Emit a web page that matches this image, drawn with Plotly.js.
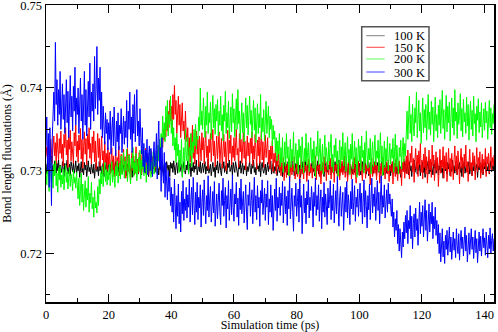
<!DOCTYPE html>
<html>
<head>
<meta charset="utf-8">
<script src="https://cdn.plot.ly/plotly-3.0.1.min.js"></script>
<style>html,body{margin:0;padding:0;background:#fff;}#chart{width:498px;height:332px;}</style>
</head>
<body>
<div id="chart"></div>
<script>
// sampling: t0 = 0 ps, step 0.25 ps
const seriesNames = ["100 K", "150 K", "200 K", "300 K"];
const seriesColors = ["#000000", "#ff0000", "#00ff00", "#0000ff"];
const legendLineColors = ["#808080", "#ff4040", "#60ff60", "#4040ff"];
const t0 = 0, dt = 0.25;

const k100 = [
0.7308,0.7296,0.7315,0.7301,0.7292,0.7310,0.7304,0.7318,0.7299,0.7306,0.7294,0.7312,0.7303,0.7297,0.7309,0.7300,0.7314,0.7295,0.7307,0.7302,
0.7298,0.7311,0.7304,0.7293,0.7309,0.7300,0.7306,0.7313,0.7296,0.7302,0.7308,0.7294,0.7311,0.7305,0.7299,0.7310,0.7297,0.7303,0.7312,0.7295,
0.7306,0.7300,0.7309,0.7292,0.7304,0.7311,0.7298,0.7303,0.7295,0.7310,0.7301,0.7307,0.7293,0.7305,0.7312,0.7299,0.7304,0.7296,0.7309,0.7302,
0.7297,0.7308,0.7291,0.7303,0.7310,0.7299,0.7305,0.7294,0.7311,0.7300,0.7306,0.7296,0.7302,0.7309,0.7293,0.7307,0.7301,0.7312,0.7298,0.7304,
0.7310,0.7295,0.7303,0.7308,0.7299,0.7313,0.7301,0.7296,0.7306,0.7311,0.7294,0.7304,0.7309,0.7298,0.7305,0.7300,0.7312,0.7297,0.7303,0.7307,
0.7299,0.7310,0.7302,0.7294,0.7308,0.7304,0.7313,0.7298,0.7301,0.7306,0.7292,0.7309,0.7303,0.7311,0.7297,0.7305,0.7300,0.7314,0.7296,0.7302,
0.7308,0.7301,0.7295,0.7310,0.7304,0.7299,0.7312,0.7297,0.7306,0.7303,0.7309,0.7293,0.7305,0.7311,0.7300,0.7296,0.7307,0.7302,0.7313,0.7298,
0.7304,0.7310,0.7297,0.7303,0.7295,0.7309,0.7301,0.7312,0.7299,0.7306,0.7294,0.7308,0.7302,0.7297,0.7311,0.7305,0.7300,0.7307,0.7293,0.7310,
0.7303,0.7309,0.7298,0.7312,0.7301,0.7295,0.7306,0.7310,0.7297,0.7304,0.7313,0.7299,0.7302,0.7308,0.7294,0.7305,0.7311,0.7300,0.7296,0.7307,
0.7301,0.7312,0.7296,0.7305,0.7309,0.7293,0.7304,0.7300,0.7310,0.7298,0.7306,0.7302,0.7313,0.7295,0.7303,0.7308,0.7299,0.7311,0.7297,0.7304,
0.7309,0.7298,0.7303,0.7311,0.7296,0.7305,0.7300,0.7314,0.7297,0.7302,0.7308,0.7294,0.7306,0.7310,0.7299,0.7304,0.7292,0.7307,0.7301,0.7312,
0.7297,0.7305,0.7310,0.7300,0.7294,0.7308,0.7303,0.7311,0.7298,0.7306,0.7301,0.7296,0.7309,0.7304,0.7313,0.7299,0.7302,0.7307,0.7295,0.7310,
0.7303,0.7298,0.7311,0.7305,0.7300,0.7293,0.7308,0.7302,0.7312,0.7297,0.7304,0.7309,0.7296,0.7306,0.7301,0.7310,0.7294,0.7305,0.7299,0.7307,
0.7311,0.7300,0.7296,0.7308,0.7303,0.7313,0.7298,0.7304,0.7295,0.7309,0.7302,0.7306,0.7299,0.7311,0.7293,0.7305,0.7310,0.7301,0.7297,0.7303,
0.7308,0.7295,0.7304,0.7310,0.7299,0.7306,0.7302,0.7312,0.7296,0.7301,0.7309,0.7297,0.7305,0.7300,0.7313,0.7294,0.7303,0.7307,0.7298,0.7311,
0.7300,0.7306,0.7293,0.7304,0.7310,0.7298,0.7302,0.7308,0.7295,0.7311,0.7301,0.7297,0.7307,0.7303,0.7312,0.7299,0.7305,0.7294,0.7309,0.7302,
0.7296,0.7310,0.7304,0.7299,0.7307,0.7292,0.7303,0.7311,0.7300,0.7306,0.7298,0.7313,0.7301,0.7295,0.7308,0.7304,0.7310,0.7297,0.7302,0.7306,
0.7311,0.7299,0.7303,0.7294,0.7309,0.7305,0.7300,0.7312,0.7296,0.7304,0.7308,0.7301,0.7297,0.7310,0.7303,0.7293,0.7306,0.7311,0.7299,0.7304,
0.7298,0.7307,0.7302,0.7312,0.7295,0.7305,0.7309,0.7300,0.7296,0.7311,0.7303,0.7297,0.7308,0.7301,0.7313,0.7294,0.7304,0.7300,0.7309,0.7298,
0.7305,0.7310,0.7297,0.7303,0.7308,0.7293,0.7301,0.7311,0.7299,0.7306,0.7302,0.7296,0.7310,0.7304,0.7298,0.7312,0.7300,0.7307,0.7295,0.7303,
0.7309,0.7300,0.7295,0.7306,0.7311,0.7298,0.7304,0.7301,0.7313,0.7296,0.7303,0.7308,0.7294,0.7305,0.7310,0.7299,0.7302,0.7307,0.7297,0.7311,
0.7301,0.7306,0.7293,0.7310,0.7303,0.7298,0.7309,0.7296,0.7305,0.7312,0.7300,0.7295,0.7307,0.7302,0.7311,0.7297,0.7304,0.7309,0.7299,0.7306,
0.7294,0.7308,0.7302,0.7311,0.7297,0.7304,0.7300,0.7313,0.7296,0.7303,0.7309,0.7298,0.7305,0.7292,0.7310,0.7301,0.7306,0.7299,0.7312,0.7303,
0.7297,0.7309,0.7304,0.7295,0.7311,0.7300,0.7306,0.7293,0.7308,0.7302,0.7313,0.7298,0.7303,0.7310,0.7296,0.7305,0.7300,0.7309,0.7294,0.7307,
0.7303,0.7311,0.7298,0.7305,0.7292,0.7309,0.7301,0.7306,0.7312,0.7296,0.7304,0.7299,0.7310,0.7302,0.7295,0.7308,0.7303,0.7313,0.7297,0.7301,
0.7309,0.7295,0.7306,0.7301,0.7312,0.7298,0.7303,0.7291,0.7307,0.7311,0.7300,0.7304,0.7296,0.7310,0.7302,0.7308,0.7294,0.7305,0.7299,0.7313,
0.7300,0.7306,0.7297,0.7311,0.7303,0.7295,0.7308,0.7302,0.7310,0.7298,0.7305,0.7293,0.7309,0.7301,0.7312,0.7297,0.7304,0.7307,0.7299,0.7306,
0.7311,0.7296,0.7303,0.7309,0.7294,0.7305,0.7300,0.7313,0.7298,0.7304,0.7308,0.7292,0.7306,0.7301,0.7310,0.7297,0.7303,0.7309,0.7295,0.7307,
0.7302,0.7311,0.7298,0.7305,0.7300,0.7309,0.7296,0.7304,0.7312,0.7299,0.7306,0.7301,0.7308
];

const k150 = [
0.7318,0.7329,0.7312,0.7336,0.7321,0.7315,0.7338,0.7325,0.7310,0.7331,0.7342,0.7318,0.7334,0.7308,0.7345,0.7326,0.7313,0.7339,0.7321,0.7348,
0.7315,0.7332,0.7306,0.7344,0.7328,0.7352,0.7319,0.7337,0.7304,0.7341,0.7326,0.7349,0.7312,0.7335,0.7322,0.7309,0.7346,0.7330,0.7355,0.7317,
0.7336,0.7310,0.7343,0.7325,0.7351,0.7314,0.7338,0.7303,0.7329,0.7347,0.7320,0.7339,0.7307,0.7344,0.7326,0.7352,0.7315,0.7333,0.7308,0.7341,
0.7322,0.7348,0.7311,0.7336,0.7302,0.7330,0.7345,0.7316,0.7339,0.7305,0.7327,0.7342,0.7313,0.7324,0.7298,0.7335,0.7310,0.7321,0.7300,0.7328,
0.7307,0.7322,0.7296,0.7315,0.7328,0.7301,0.7318,0.7293,0.7311,0.7325,0.7298,0.7316,0.7305,0.7330,0.7294,0.7312,0.7320,0.7297,0.7309,0.7326,
0.7302,0.7317,0.7291,0.7313,0.7327,0.7299,0.7320,0.7306,0.7289,0.7315,0.7324,0.7300,0.7318,0.7295,0.7311,0.7329,0.7303,0.7314,0.7297,0.7322,
0.7308,0.7319,0.7296,0.7325,0.7304,0.7316,0.7299,0.7327,0.7310,0.7301,0.7321,0.7295,0.7314,0.7306,0.7324,0.7298,0.7317,0.7305,0.7320,0.7302,
0.7312,0.7324,0.7303,0.7318,0.7330,0.7309,0.7322,0.7335,0.7342,0.7328,0.7350,0.7337,0.7358,0.7341,0.7365,0.7348,0.7372,0.7352,0.7385,0.7360,
0.7378,0.7350,0.7392,0.7362,0.7403,0.7368,0.7385,0.7345,0.7375,0.7390,0.7355,0.7380,0.7340,0.7368,0.7382,0.7348,0.7360,0.7338,0.7372,0.7346,
0.7335,0.7352,0.7318,0.7340,0.7310,0.7345,0.7325,0.7355,0.7315,0.7336,0.7308,0.7330,0.7348,0.7320,0.7338,0.7305,0.7342,0.7328,0.7312,0.7346,
0.7325,0.7340,0.7308,0.7333,0.7348,0.7316,0.7330,0.7302,0.7338,0.7322,0.7345,0.7311,0.7329,0.7350,0.7318,0.7336,0.7305,0.7327,0.7342,0.7314,
0.7331,0.7347,0.7310,0.7326,0.7339,0.7303,0.7324,0.7344,0.7317,0.7335,0.7300,0.7328,0.7349,0.7312,0.7337,0.7321,0.7343,0.7307,0.7330,0.7316,
0.7340,0.7312,0.7333,0.7350,0.7319,0.7327,0.7304,0.7345,0.7323,0.7338,0.7309,0.7331,0.7346,0.7315,0.7336,0.7301,0.7325,0.7342,0.7318,0.7334,
0.7310,0.7339,0.7321,0.7347,0.7306,0.7330,0.7314,0.7344,0.7326,0.7302,0.7337,0.7318,0.7341,0.7309,0.7329,0.7348,0.7313,0.7335,0.7304,0.7327,
0.7343,0.7316,0.7332,0.7340,0.7308,0.7325,0.7302,0.7330,0.7314,0.7336,0.7299,0.7321,0.7310,0.7327,0.7296,0.7318,0.7305,0.7323,0.7300,0.7312,
0.7294,0.7310,0.7301,0.7316,0.7288,0.7305,0.7312,0.7292,0.7308,0.7298,0.7315,0.7286,0.7303,0.7311,0.7295,0.7307,0.7300,0.7317,0.7290,0.7304,
0.7309,0.7293,0.7313,0.7299,0.7285,0.7306,0.7316,0.7296,0.7304,0.7290,0.7311,0.7300,0.7307,0.7287,0.7302,0.7314,0.7294,0.7309,0.7298,0.7305,
0.7291,0.7312,0.7303,0.7297,0.7318,0.7289,0.7306,0.7300,0.7314,0.7293,0.7308,0.7284,0.7301,0.7310,0.7296,0.7317,0.7299,0.7305,0.7288,0.7311,
0.7302,0.7295,0.7309,0.7315,0.7290,0.7304,0.7298,0.7313,0.7286,0.7307,0.7300,0.7316,0.7293,0.7305,0.7310,0.7289,0.7303,0.7298,0.7312,0.7295,
0.7306,0.7318,0.7292,0.7301,0.7310,0.7287,0.7304,0.7314,0.7297,0.7308,0.7290,0.7303,0.7311,0.7295,0.7316,0.7300,0.7285,0.7307,0.7299,0.7312,
0.7294,0.7305,0.7313,0.7298,0.7288,0.7309,0.7302,0.7317,0.7291,0.7306,0.7300,0.7311,0.7296,0.7304,0.7283,0.7308,0.7315,0.7293,0.7303,0.7310,
0.7297,0.7314,0.7289,0.7306,0.7300,0.7312,0.7285,0.7303,0.7309,0.7294,0.7316,0.7299,0.7305,0.7290,0.7311,0.7301,0.7296,0.7313,0.7287,0.7307,
0.7302,0.7298,0.7311,0.7284,0.7305,0.7309,0.7293,0.7315,0.7300,0.7288,0.7306,0.7312,0.7296,0.7303,0.7282,0.7310,0.7299,0.7314,0.7291,0.7308,
0.7318,0.7296,0.7325,0.7305,0.7290,0.7321,0.7310,0.7330,0.7299,0.7315,0.7286,0.7312,0.7327,0.7302,0.7319,0.7293,0.7324,0.7307,0.7333,0.7298,
0.7313,0.7290,0.7320,0.7304,0.7328,0.7296,0.7317,0.7285,0.7309,0.7325,0.7301,0.7314,0.7292,0.7331,0.7306,0.7319,0.7288,0.7311,0.7323,0.7300,
0.7316,0.7281,0.7308,0.7326,0.7297,0.7313,0.7304,0.7329,0.7291,0.7318,0.7302,0.7322,0.7287,0.7310,0.7327,0.7299,0.7315,0.7293,0.7321,0.7306,
0.7289,0.7314,0.7330,0.7300,0.7318,0.7295,0.7324,0.7308,0.7284,0.7312,0.7327,0.7303,0.7316,0.7292,0.7320,0.7305,0.7331,0.7298,0.7311,0.7287,
0.7315,0.7326,0.7301,0.7310,0.7294,0.7322,0.7306,0.7318,0.7289,0.7313,0.7328,0.7299,0.7316,0.7304,0.7323,0.7291,0.7309,0.7320,0.7296,0.7314,
0.7305,0.7327,0.7293,0.7317,0.7308,0.7321,0.7297,0.7312,0.7329,0.7300,0.7316,0.7306,0.7319
];

const k200 = [
0.7298,0.7283,0.7310,0.7291,0.7275,0.7305,0.7316,0.7287,0.7300,0.7279,0.7308,0.7294,0.7312,0.7282,0.7297,0.7274,0.7303,0.7289,0.7306,0.7280,
0.7295,0.7284,0.7302,0.7277,0.7291,0.7307,0.7286,0.7299,0.7278,0.7293,0.7304,0.7281,0.7296,0.7289,0.7276,0.7301,0.7285,0.7292,0.7279,0.7298,
0.7280,0.7266,0.7291,0.7258,0.7275,0.7297,0.7262,0.7284,0.7252,0.7270,0.7288,0.7256,0.7279,0.7265,0.7293,0.7250,0.7273,0.7261,0.7286,0.7254,
0.7268,0.7244,0.7276,0.7255,0.7262,0.7249,0.7281,0.7258,0.7290,0.7272,0.7298,0.7284,0.7305,0.7281,0.7296,0.7310,0.7287,0.7302,0.7283,0.7299,
0.7289,0.7308,0.7282,0.7297,0.7311,0.7286,0.7301,0.7292,0.7280,0.7306,0.7294,0.7312,0.7285,0.7299,0.7309,0.7290,0.7318,0.7295,0.7305,0.7322,
0.7291,0.7312,0.7300,0.7326,0.7287,0.7308,0.7319,0.7295,0.7284,0.7315,0.7303,0.7328,0.7293,0.7310,0.7297,0.7321,0.7288,0.7306,0.7316,0.7299,
0.7325,0.7290,0.7313,0.7302,0.7329,0.7294,0.7309,0.7320,0.7286,0.7307,0.7298,0.7318,0.7301,0.7326,0.7292,0.7311,0.7304,0.7323,0.7296,0.7315,
0.7305,0.7322,0.7296,0.7331,0.7312,0.7338,0.7318,0.7345,0.7328,0.7366,0.7340,0.7358,0.7335,0.7378,0.7350,0.7385,0.7342,0.7368,0.7356,0.7390,
0.7345,0.7362,0.7330,0.7352,0.7325,0.7340,0.7310,0.7345,0.7318,0.7332,0.7298,0.7325,0.7306,0.7338,0.7292,0.7315,0.7328,0.7300,0.7350,0.7320,
0.7312,0.7340,0.7296,0.7328,0.7318,0.7345,0.7305,0.7335,0.7322,0.7350,0.7330,0.7356,0.7326,0.7342,0.7338,0.7365,0.7348,0.7400,0.7355,0.7372,
0.7350,0.7388,0.7362,0.7340,0.7378,0.7355,0.7395,0.7345,0.7370,0.7358,0.7383,0.7338,0.7366,0.7391,0.7352,0.7375,0.7344,0.7380,0.7360,0.7386,
0.7342,0.7372,0.7355,0.7390,0.7348,0.7368,0.7336,0.7379,0.7360,0.7396,0.7345,0.7370,0.7352,0.7384,0.7339,0.7363,0.7377,0.7347,0.7393,0.7358,
0.7375,0.7341,0.7364,0.7387,0.7350,0.7398,0.7357,0.7372,0.7338,0.7366,0.7382,0.7346,0.7370,0.7335,0.7361,0.7388,0.7352,0.7379,0.7343,0.7368,
0.7390,0.7356,0.7373,0.7340,0.7362,0.7385,0.7349,0.7376,0.7334,0.7359,0.7381,0.7345,0.7369,0.7352,0.7392,0.7338,0.7364,0.7347,0.7374,0.7336,
0.7358,0.7384,0.7345,0.7372,0.7378,0.7340,0.7366,0.7350,0.7362,0.7330,0.7355,0.7338,0.7348,0.7322,0.7340,0.7312,0.7336,0.7320,0.7345,0.7305,
0.7328,0.7310,0.7340,0.7298,0.7322,0.7335,0.7306,0.7345,0.7315,0.7329,0.7294,0.7318,0.7338,0.7304,0.7326,0.7312,0.7347,0.7300,0.7320,0.7333,
0.7308,0.7325,0.7296,0.7338,0.7316,0.7330,0.7302,0.7341,0.7319,0.7297,0.7327,0.7311,0.7345,0.7306,0.7322,0.7334,0.7299,0.7318,0.7340,0.7310,
0.7326,0.7303,0.7336,0.7314,0.7293,0.7329,0.7318,0.7348,0.7307,0.7321,0.7339,0.7300,0.7315,0.7332,0.7296,0.7324,0.7343,0.7309,0.7328,0.7317,
0.7301,0.7335,0.7312,0.7327,0.7344,0.7305,0.7320,0.7298,0.7331,0.7316,0.7339,0.7308,0.7324,0.7293,0.7318,0.7337,0.7303,0.7329,0.7313,0.7346,
0.7306,0.7323,0.7334,0.7299,0.7317,0.7341,0.7310,0.7326,0.7295,0.7332,0.7314,0.7345,0.7302,0.7321,0.7336,0.7308,0.7328,0.7292,0.7319,0.7338,
0.7311,0.7330,0.7300,0.7342,0.7316,0.7325,0.7297,0.7334,0.7309,0.7348,0.7320,0.7303,0.7327,0.7313,0.7339,0.7296,0.7322,0.7335,0.7305,0.7318,
0.7343,0.7307,0.7324,0.7315,0.7337,0.7299,0.7321,0.7346,0.7310,0.7330,0.7294,0.7318,0.7336,0.7304,0.7327,0.7312,0.7341,0.7300,0.7323,0.7333,
0.7308,0.7326,0.7315,0.7339,0.7298,0.7320,0.7344,0.7305,0.7331,0.7312,0.7296,0.7328,0.7317,0.7337,0.7302,0.7323,0.7340,0.7311,0.7333,0.7318,
0.7350,0.7372,0.7338,0.7365,0.7390,0.7345,0.7368,0.7335,0.7380,0.7355,0.7342,0.7376,0.7358,0.7395,0.7340,0.7362,0.7385,0.7348,0.7370,0.7333,
0.7360,0.7388,0.7346,0.7374,0.7352,0.7380,0.7337,0.7366,0.7392,0.7350,0.7371,0.7343,0.7384,0.7356,0.7377,0.7335,0.7363,0.7389,0.7348,0.7368,
0.7340,0.7379,0.7355,0.7386,0.7345,0.7369,0.7397,0.7351,0.7374,0.7338,0.7362,0.7391,0.7347,0.7378,0.7358,0.7383,0.7336,0.7365,0.7388,0.7352,
0.7376,0.7343,0.7398,0.7360,0.7371,0.7339,0.7382,0.7356,0.7367,0.7393,0.7348,0.7375,0.7341,0.7386,0.7359,0.7370,0.7345,0.7389,0.7354,0.7380,
0.7337,0.7366,0.7384,0.7350,0.7373,0.7342,0.7390,0.7357,0.7369,0.7335,0.7378,0.7361,0.7387,0.7346,0.7371,0.7353,0.7382,0.7340,0.7367,0.7375,
0.7349,0.7383,0.7358,0.7372,0.7338,0.7366,0.7385,0.7352,0.7376,0.7344,0.7369,0.7357,0.7380
];

const k300 = [
0.7330,0.7365,0.7300,0.7345,0.7280,0.7352,0.7310,0.7258,0.7340,0.7372,0.7395,0.7360,0.7455,0.7380,0.7410,0.7355,0.7398,0.7368,0.7420,0.7350,
0.7385,0.7405,0.7362,0.7392,0.7345,0.7378,0.7410,0.7358,0.7396,0.7340,0.7385,0.7415,0.7365,0.7390,0.7348,0.7402,0.7372,0.7425,0.7355,0.7388,
0.7368,0.7400,0.7345,0.7385,0.7412,0.7360,0.7392,0.7338,0.7378,0.7420,0.7355,0.7398,0.7342,0.7382,0.7408,0.7365,0.7430,0.7350,0.7395,0.7372,
0.7405,0.7360,0.7438,0.7375,0.7398,0.7450,0.7368,0.7412,0.7385,0.7425,0.7350,0.7395,0.7340,0.7378,0.7355,0.7332,0.7370,0.7345,0.7362,0.7325,
0.7358,0.7338,0.7372,0.7320,0.7350,0.7365,0.7330,0.7377,0.7342,0.7318,0.7360,0.7335,0.7370,0.7325,0.7355,0.7345,0.7375,0.7322,0.7348,0.7366,
0.7332,0.7360,0.7340,0.7385,0.7328,0.7372,0.7350,0.7395,0.7338,0.7365,0.7322,0.7380,0.7345,0.7392,0.7335,0.7370,0.7398,0.7342,0.7360,0.7330,
0.7375,0.7340,0.7320,0.7352,0.7305,0.7333,0.7298,0.7325,0.7310,0.7338,0.7295,0.7318,0.7330,0.7300,0.7327,0.7312,0.7293,0.7320,0.7335,0.7305,
0.7318,0.7345,0.7290,0.7335,0.7360,0.7305,0.7328,0.7275,0.7340,0.7300,0.7285,0.7322,0.7268,0.7310,0.7290,0.7265,0.7300,0.7275,0.7292,0.7258,
0.7280,0.7250,0.7272,0.7238,0.7290,0.7258,0.7230,0.7270,0.7245,0.7284,0.7236,0.7262,0.7226,0.7275,0.7248,0.7288,0.7240,0.7266,0.7252,0.7280,
0.7243,0.7271,0.7256,0.7290,0.7238,0.7265,0.7280,0.7247,0.7292,0.7259,0.7235,0.7274,0.7250,0.7286,0.7241,0.7268,0.7255,0.7283,0.7232,0.7262,
0.7277,0.7246,0.7289,0.7258,0.7236,0.7270,0.7252,0.7294,0.7244,0.7266,0.7281,0.7238,0.7262,0.7275,0.7249,0.7287,0.7233,0.7260,0.7272,0.7242,
0.7268,0.7285,0.7251,0.7235,0.7276,0.7258,0.7291,0.7245,0.7264,0.7280,0.7231,0.7270,0.7254,0.7288,0.7240,0.7265,0.7278,0.7247,0.7295,0.7256,
0.7239,0.7272,0.7260,0.7286,0.7244,0.7267,0.7234,0.7279,0.7253,0.7290,0.7248,0.7262,0.7275,0.7237,0.7268,0.7283,0.7250,0.7229,0.7271,0.7258,
0.7286,0.7245,0.7264,0.7277,0.7236,0.7259,0.7292,0.7250,0.7270,0.7241,0.7282,0.7255,0.7268,0.7233,0.7276,0.7261,0.7289,0.7247,0.7265,0.7279,
0.7240,0.7272,0.7256,0.7288,0.7235,0.7266,0.7250,0.7283,0.7244,0.7270,0.7228,0.7262,0.7278,0.7252,0.7291,0.7239,0.7268,0.7255,0.7280,0.7246,
0.7273,0.7258,0.7287,0.7237,0.7264,0.7281,0.7248,0.7269,0.7234,0.7276,0.7254,0.7293,0.7242,0.7266,0.7279,0.7251,0.7227,0.7270,0.7257,0.7285,
0.7245,0.7263,0.7278,0.7238,0.7290,0.7256,0.7270,0.7224,0.7261,0.7284,0.7249,0.7267,0.7236,0.7275,0.7259,0.7289,0.7243,0.7268,0.7252,0.7281,
0.7266,0.7232,0.7274,0.7257,0.7291,0.7246,0.7270,0.7253,0.7283,0.7239,0.7262,0.7277,0.7230,0.7268,0.7250,0.7286,0.7244,0.7272,0.7258,0.7235,
0.7279,0.7255,0.7265,0.7288,0.7241,0.7270,0.7252,0.7284,0.7237,0.7262,0.7276,0.7248,0.7293,0.7257,0.7233,0.7269,0.7281,0.7245,0.7264,0.7274,
0.7228,0.7266,0.7280,0.7250,0.7287,0.7243,0.7271,0.7259,0.7235,0.7275,0.7254,0.7290,0.7247,0.7263,0.7282,0.7239,0.7268,0.7256,0.7278,0.7245,
0.7262,0.7285,0.7250,0.7273,0.7236,0.7267,0.7289,0.7244,0.7276,0.7258,0.7231,0.7270,0.7253,0.7284,0.7241,0.7265,0.7291,0.7249,0.7272,0.7257,
0.7280,0.7240,0.7266,0.7288,0.7252,0.7274,0.7236,0.7263,0.7294,0.7248,0.7270,0.7256,0.7283,0.7243,0.7268,0.7277,0.7250,0.7285,0.7260,0.7272,
0.7258,0.7245,0.7266,0.7232,0.7250,0.7220,0.7242,0.7228,0.7252,0.7212,0.7235,0.7203,0.7230,0.7215,0.7195,0.7226,0.7208,0.7238,0.7218,0.7246,
0.7225,0.7252,0.7212,0.7240,0.7230,0.7258,0.7218,0.7245,0.7206,0.7236,0.7248,0.7220,0.7255,0.7228,0.7242,0.7210,0.7238,0.7262,0.7224,0.7250,
0.7233,0.7258,0.7220,0.7247,0.7265,0.7228,0.7252,0.7215,0.7240,0.7260,0.7226,0.7250,0.7236,0.7262,0.7218,0.7245,0.7230,0.7256,0.7222,0.7240,
0.7212,0.7235,0.7200,0.7225,0.7190,0.7218,0.7230,0.7196,0.7215,0.7188,0.7222,0.7205,0.7228,0.7198,0.7216,0.7232,0.7202,0.7220,0.7193,0.7212,
0.7226,0.7204,0.7218,0.7195,0.7230,0.7210,0.7200,0.7224,0.7192,0.7215,0.7228,0.7206,0.7220,0.7197,0.7213,0.7232,0.7203,0.7222,0.7190,0.7211,
0.7225,0.7199,0.7216,0.7230,0.7205,0.7220,0.7194,0.7212,0.7228,0.7201,0.7218,0.7189,0.7214,0.7226,0.7203,0.7221,0.7197,0.7215,0.7230,0.7207,
0.7219,0.7198,0.7226,0.7210,0.7195,0.7222,0.7206,0.7231,0.7200,0.7216,0.7224,0.7203,0.7218
];

const xTickVals = [0, 20, 40, 60, 80, 100, 120, 140];
const yTickVals = [0.72, 0.73, 0.74, 0.75];
const yTickText = ["0.72", "0.73", "0.74", "0.75"];
const xTitle = "Simulation time (ps)";
const yTitle = "Bond length fluctuations (Å)";

const allSeries = [k100, k150, k200, k300];
const traces = allSeries.map((vals, i) => ({
  type: "scatter",
  mode: "lines",
  name: seriesNames[i],
  x0: t0,
  dx: dt,
  y: vals,
  line: {color: seriesColors[i], width: 1}
}));

const font = {family: "Liberation Serif, Times New Roman, serif", color: "#000"};

// hand-built legend box (paper coordinates)
const legBox = {x0: 0.7047, x1: 0.8549, y0: 0.7451, y1: 0.9269};
const legLineX = [0.7150, 0.7560];
const legTextX = 0.7745;
const legRowY = [0.8966, 0.8576, 0.8182, 0.7744];

const shapes = [{
  type: "rect", xref: "paper", yref: "paper",
  x0: legBox.x0, x1: legBox.x1, y0: legBox.y0, y1: legBox.y1,
  line: {color: "#555", width: 1.5}, fillcolor: "#fff", layer: "above"
}];
const annotations = [];
seriesNames.forEach((nm, i) => {
  shapes.push({
    type: "line", xref: "paper", yref: "paper",
    x0: legLineX[0], x1: legLineX[1], y0: legRowY[i], y1: legRowY[i],
    line: {color: legendLineColors[i], width: 1}, layer: "above"
  });
  annotations.push({
    xref: "paper", yref: "paper", x: legTextX, y: legRowY[i],
    xanchor: "left", yanchor: "middle", showarrow: false,
    height: 11, valign: "middle", borderpad: 0,
    text: nm, font: Object.assign({size: 12.5}, font)
  });
});

const layout = {
  width: 498,
  height: 332,
  margin: {l: 46, r: 4, t: 5, b: 30},
  paper_bgcolor: "#fff",
  plot_bgcolor: "#fff",
  font: Object.assign({size: 12}, font),
  showlegend: false,
  shapes: shapes,
  annotations: annotations,
  xaxis: {
    range: [0, 143],
    tickvals: xTickVals,
    ticks: "inside", ticklen: 8, tickwidth: 1, tickcolor: "#000",
    minor: {dtick: 10, tick0: 0, ticks: "inside", ticklen: 4, tickwidth: 1, tickcolor: "#000", showgrid: false},
    showline: true, linecolor: "#000", linewidth: 1.5, mirror: "allticks",
    showgrid: false, zeroline: false, ticklabeloverflow: "allow",
    tickfont: Object.assign({size: 12.5}, font),
    title: {text: xTitle, font: Object.assign({size: 12}, font), standoff: 4}
  },
  yaxis: {
    range: [0.71415, 0.75002],
    tickvals: yTickVals, ticktext: yTickText,
    ticks: "inside", ticklen: 8, tickwidth: 1, tickcolor: "#000",
    minor: {dtick: 0.005, tick0: 0.7, ticks: "inside", ticklen: 4, tickwidth: 1, tickcolor: "#000", showgrid: false},
    showline: true, linecolor: "#000", linewidth: 1.5, mirror: "allticks",
    showgrid: false, zeroline: false, ticklabeloverflow: "allow",
    tickfont: Object.assign({size: 12.5}, font),
    title: {text: yTitle, font: Object.assign({size: 12}, font), standoff: 6}
  }
};

Plotly.newPlot("chart", traces, layout, {displayModeBar: false, staticPlot: true});
</script>
</body>
</html>
